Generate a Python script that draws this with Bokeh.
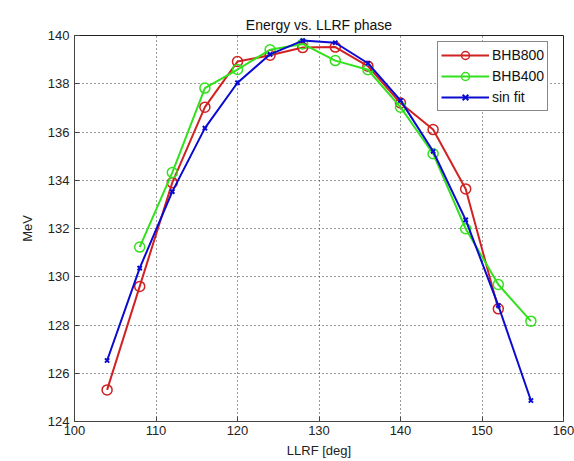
from bokeh.plotting import figure
from bokeh.models import Range1d, FixedTicker
from bokeh.embed import file_html
from bokeh.resources import INLINE

# LLRF phase settings (deg)
phase = [104, 108, 112, 116, 120, 124, 128, 132, 136, 140, 144, 148, 152, 156]

# Measured beam energy (MeV)
bhb800_phase = [104, 108, 112, 116, 120, 124, 128, 132, 136, 140, 144, 148, 152]
bhb800 = [125.31, 129.60, 133.90, 137.03, 138.92, 139.18, 139.50, 139.52, 138.73, 137.20, 136.10, 133.64, 128.67]

bhb400_phase = [108, 112, 116, 120, 124, 128, 132, 136, 140, 144, 148, 152, 156]
bhb400 = [131.23, 134.32, 137.82, 138.59, 139.41, 139.65, 138.96, 138.58, 137.03, 135.10, 131.99, 129.68, 128.16]

# Sinusoidal fit evaluated at each phase
sin_fit = [126.53, 130.36, 133.53, 136.16, 138.04, 139.22, 139.79, 139.70, 138.85, 137.31, 135.20, 132.36, 128.81, 124.87]

x_ticks = [100, 110, 120, 130, 140, 150, 160]
y_ticks = [124, 126, 128, 130, 132, 134, 136, 138, 140]

FONT = "Liberation Sans"
RED = "#d02222"
GREEN = "#33e01c"
BLUE = "#0a0ad0"

p = figure(width=574, height=461, output_backend="svg", toolbar_location=None,
           x_range=Range1d(100, 160), y_range=Range1d(124, 140),
           title="Energy vs. LLRF phase",
           min_border_left=74, min_border_right=11, min_border_top=35, min_border_bottom=40)

p.title.align = "center"
p.title.text_font = FONT
p.title.text_font_size = "14px"
p.title.text_font_style = "normal"
p.title.text_color = "#111111"
p.title.offset = 0
p.title.standoff = 6

p.background_fill_color = "white"
p.border_fill_color = "white"
p.outline_line_color = "#222222"
p.outline_line_width = 1

for ax in (p.xaxis, p.yaxis):
    ax.major_label_text_font = FONT
    ax.major_label_text_font_size = "13px"
    ax.major_label_text_color = "#222222"
    ax.axis_label_text_font = FONT
    ax.axis_label_text_font_size = "13px"
    ax.axis_label_text_font_style = "normal"
    ax.axis_label_text_color = "#222222"
    ax.major_tick_in = 5
    ax.major_tick_out = 0
    ax.minor_tick_in = 0
    ax.minor_tick_out = 0
    ax.axis_line_color = "#444444"
    ax.major_tick_line_color = "#444444"

p.xaxis.ticker = FixedTicker(ticks=x_ticks)
p.yaxis.ticker = FixedTicker(ticks=y_ticks)
p.xaxis.axis_label = "LLRF [deg]"
p.yaxis.axis_label = "MeV"
p.xaxis.major_label_standoff = 4
p.xaxis.axis_label_standoff = 5
p.yaxis.major_label_standoff = 5
p.yaxis.axis_label_standoff = 10

p.grid.grid_line_color = "#222222"
p.grid.grid_line_dash = "1 3"
p.grid.grid_line_width = 1
p.grid.grid_line_alpha = 0.9

p.line(bhb800_phase, bhb800, line_color=RED, line_width=2, legend_label="BHB800")
p.scatter(bhb800_phase, bhb800, marker="circle", size=10, fill_color=None,
          line_color=RED, line_width=1.5, legend_label="BHB800")

p.line(bhb400_phase, bhb400, line_color=GREEN, line_width=2, legend_label="BHB400")
p.scatter(bhb400_phase, bhb400, marker="circle", size=10, fill_color=None,
          line_color=GREEN, line_width=1.5, legend_label="BHB400")

p.line(phase, sin_fit, line_color=BLUE, line_width=2, legend_label="sin fit")
p.scatter(phase, sin_fit, marker="x", size=6, line_color=BLUE, line_width=2,
          legend_label="sin fit")

lg = p.legend[0]
lg.location = (363, 310)
lg.label_text_font = FONT
lg.label_text_font_size = "14px"
lg.label_text_color = "#111111"
lg.border_line_color = "#111111"
lg.border_line_width = 1
lg.background_fill_color = "white"
lg.background_fill_alpha = 1
lg.padding = 3
lg.spacing = 1
lg.margin = 0
lg.glyph_width = 48
lg.glyph_height = 20
lg.label_height = 20
lg.label_standoff = 3

open("out.html", "w").write(file_html(p, INLINE))
